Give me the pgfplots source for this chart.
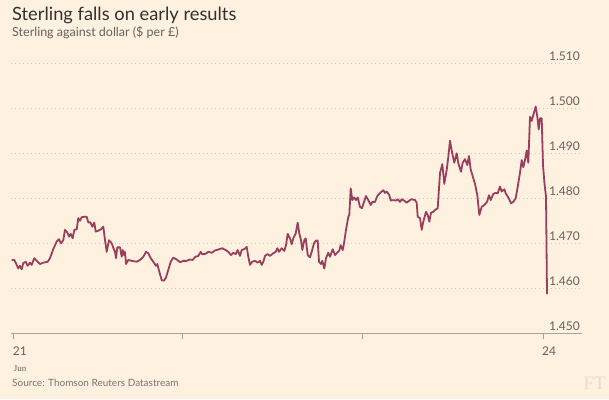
\documentclass[border=0pt]{standalone}
\usepackage{pgfplots}
\pgfplotsset{compat=1.18}
\usepackage{fontspec}
\setmainfont{Lato}
\newfontfamily\serifjun{Liberation Serif}
\definecolor{ftbg}{HTML}{FFF1E0}
\definecolor{fttitle}{HTML}{33302E}
\definecolor{ftsub}{HTML}{66605C}
\definecolor{ftsrc}{HTML}{7A736E}
\definecolor{ftgrid}{HTML}{CFC7BA}
\definecolor{ftaxis}{HTML}{A9A39A}
\definecolor{ftline}{HTML}{9A3E5E}
\definecolor{ftlogo}{HTML}{EADCCB}
\pgfplotstableread{
x y
11.7 1.4663
14.3 1.4663
16.7 1.4652
18.3 1.4644
20.0 1.4650
21.7 1.4642
23.3 1.4656
25.7 1.4659
27.7 1.4650
30.0 1.4657
31.7 1.4652
34.3 1.4667
36.7 1.4661
40.0 1.4654
43.3 1.4657
47.7 1.4659
50.0 1.4667
53.3 1.4687
56.7 1.4704
59.0 1.4709
61.0 1.4700
63.3 1.4707
65.0 1.4730
67.3 1.4724
69.0 1.4715
70.7 1.4721
72.7 1.4711
74.3 1.4730
76.7 1.4731
78.3 1.4756
80.0 1.4750
81.7 1.4758
84.3 1.4759
86.7 1.4759
88.3 1.4746
90.3 1.4747
92.3 1.4737
94.3 1.4746
95.7 1.4726
98.3 1.4728
101.0 1.4731
103.3 1.4737
105.0 1.4707
106.7 1.4681
109.0 1.4707
111.7 1.4700
113.3 1.4690
115.0 1.4681
116.0 1.4667
117.3 1.4691
120.0 1.4691
121.7 1.4670
122.7 1.4685
124.0 1.4674
125.0 1.4681
126.0 1.4654
128.3 1.4663
131.7 1.4661
136.7 1.4659
140.0 1.4663
143.3 1.4670
146.0 1.4681
148.3 1.4678
150.7 1.4667
153.3 1.4659
156.0 1.4650
157.3 1.4654
159.3 1.4637
161.7 1.4618
164.0 1.4617
166.0 1.4624
168.3 1.4641
170.7 1.4659
173.3 1.4668
176.7 1.4664
180.0 1.4658
183.3 1.4661
186.7 1.4661
190.0 1.4664
192.7 1.4663
195.3 1.4670
198.3 1.4672
200.7 1.4681
202.0 1.4676
205.0 1.4676
208.3 1.4681
211.7 1.4679
215.0 1.4684
219.3 1.4687
222.3 1.4689
225.7 1.4685
228.3 1.4681
231.0 1.4674
233.3 1.4679
235.7 1.4676
237.7 1.4685
240.0 1.4672
241.7 1.4685
244.3 1.4687
246.7 1.4692
248.3 1.4670
250.0 1.4652
252.3 1.4659
255.0 1.4661
257.7 1.4657
260.0 1.4661
261.7 1.4652
263.3 1.4659
265.0 1.4672
267.7 1.4676
270.0 1.4672
273.3 1.4678
275.7 1.4681
277.3 1.4689
279.0 1.4681
281.7 1.4689
284.3 1.4683
286.0 1.4696
287.7 1.4721
290.0 1.4711
291.7 1.4698
293.3 1.4711
295.7 1.4722
297.7 1.4746
299.3 1.4722
301.0 1.4707
302.3 1.4685
304.3 1.4707
305.7 1.4711
307.7 1.4674
310.0 1.4669
311.7 1.4681
314.0 1.4700
316.0 1.4706
317.7 1.4706
319.0 1.4659
321.0 1.4654
322.3 1.4661
324.3 1.4644
326.0 1.4667
328.3 1.4679
330.0 1.4670
332.7 1.4687
335.0 1.4674
336.7 1.4678
339.3 1.4684
340.7 1.4696
342.7 1.4685
344.0 1.4700
346.0 1.4730
348.3 1.4759
349.3 1.4763
350.7 1.4822
352.3 1.4796
354.0 1.4802
356.0 1.4796
357.7 1.4802
360.0 1.4781
362.0 1.4778
364.0 1.4792
366.0 1.4805
368.3 1.4796
370.7 1.4785
372.3 1.4792
375.0 1.4792
377.3 1.4805
379.3 1.4810
381.7 1.4815
383.3 1.4818
385.0 1.4812
386.7 1.4815
389.3 1.4807
390.7 1.4795
393.3 1.4796
396.0 1.4795
397.7 1.4798
400.0 1.4792
401.7 1.4798
404.0 1.4795
406.7 1.4790
409.3 1.4795
411.7 1.4798
415.0 1.4796
416.7 1.4790
417.7 1.4759
420.0 1.4756
421.7 1.4730
423.3 1.4748
426.0 1.4770
427.7 1.4763
429.3 1.4748
431.0 1.4768
433.3 1.4770
435.0 1.4774
437.7 1.4778
440.0 1.4856
442.3 1.4876
444.3 1.4832
446.7 1.4863
448.3 1.4892
450.0 1.4928
451.7 1.4906
454.3 1.4879
456.7 1.4900
458.3 1.4878
461.0 1.4859
462.7 1.4879
465.0 1.4887
467.3 1.4874
469.0 1.4894
470.7 1.4864
472.3 1.4852
475.0 1.4832
477.3 1.4807
479.3 1.4763
481.7 1.4781
484.3 1.4785
487.0 1.4792
489.0 1.4807
490.7 1.4796
493.3 1.4810
495.7 1.4812
497.7 1.4811
500.0 1.4826
501.7 1.4815
504.3 1.4820
505.7 1.4811
508.3 1.4802
511.0 1.4789
513.3 1.4792
515.7 1.4800
517.7 1.4826
520.0 1.4857
521.7 1.4885
523.3 1.4869
525.0 1.4885
526.7 1.4906
528.3 1.4879
530.0 1.4981
531.7 1.4972
533.3 1.4985
535.7 1.5004
537.3 1.4981
538.7 1.4953
540.0 1.4978
541.7 1.4978
543.0 1.4874
544.5 1.4832
546.0 1.4804
547.0 1.4587
}\sterling
\begin{document}
\begin{tikzpicture}[x=1pt,y=1pt]
\fill[ftbg] (0,0) rectangle (609,399);
\useasboundingbox (0,0) rectangle (609,399);
\node[anchor=base west, inner sep=0pt, text=fttitle] at (12,378.3) {\fontsize{18.3}{20}\selectfont Sterling falls on early results};
\node[anchor=base west, inner sep=0pt, text=ftsub] at (12,362.3) {\fontsize{12.5}{14}\selectfont Sterling against dollar (\$ per £)};
\begin{axis}[
  at={(11pt,65.7pt)}, anchor=south west,
  scale only axis, width=571pt, height=270pt,
  xmin=11, xmax=582, ymin=1.45, ymax=1.51,
  axis x line*=bottom, axis y line*=right,
  y axis line style={draw=none},
  x axis line style={draw=ftaxis, line width=0.9pt},
  xtick={13.6,182.5,362.3,543},
  xticklabels={21,,,24},
  xtick align=outside,
  xtick style={draw=ftaxis, line width=0.9pt},
  major tick length=6pt,
  ytick={1.45,1.46,1.47,1.48,1.49,1.50,1.51},
  yticklabels={1.450,1.460,1.470,1.480,1.490,1.500,1.510},
  ytick style={draw=none},
  ymajorgrids,
  grid style={draw=ftgrid, line width=1pt, dash pattern=on 1pt off 3pt},
  yticklabel style={anchor=base east, inner sep=0pt, text=ftsub, font=\fontsize{12}{14}\selectfont, xshift=-2pt, yshift=3pt},
  xticklabel style={anchor=north west, inner sep=0pt, text=ftsub, font=\fontsize{12}{14}\selectfont, xshift=-1pt, yshift=-7pt},
  clip=false,
]
\addplot[ftline, line width=1.8pt, line join=round] table[x=x,y=y] {\sterling};
\end{axis}
\node[anchor=base west, inner sep=0pt, text=ftsub] at (13.6,27.5) {\serifjun\fontsize{9}{10}\selectfont Jun};
\node[anchor=base west, inner sep=0pt, text=ftsrc] at (12,12.5) {\fontsize{10}{12}\selectfont Source: Thomson Reuters Datastream};
\node[anchor=base east, inner sep=0pt, text=ftlogo] at (606,10) {\serifjun\fontsize{19}{20}\selectfont FT};
\end{tikzpicture}
\end{document}
